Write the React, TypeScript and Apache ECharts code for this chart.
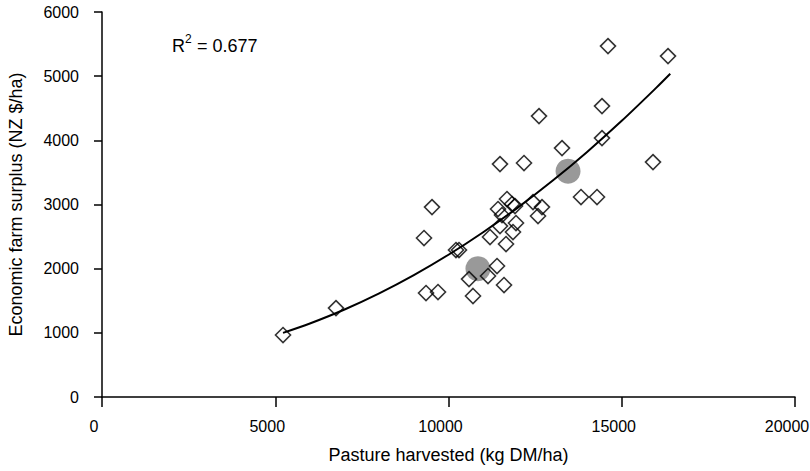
import React, { useEffect, useRef } from "react";
import * as echarts from "echarts";

// Pasture harvested (kg DM/ha) and economic farm surplus (NZ $/ha), one entry per farm
const pastureHarvested = [
  5224, 6753, 9293, 9524, 9351, 9697, 10216, 10303, 10592, 10707, 11140, 11400,
  11602, 11198, 11660, 11861, 11948, 11486, 11429, 11688, 11833, 11919, 11544,
  11486, 12179, 12439, 12698, 12583, 12612, 13276, 14430, 14430, 13824, 14286,
  14603, 16335, 15902,
];
const farmSurplus = [
  966, 1386, 2477, 2960, 1620, 1636, 2290, 2290, 1838, 1574, 1885, 2041,
  1745, 2493, 2384, 2571, 2711, 2664, 2929, 3085, 3007, 2976, 2836,
  3630, 3646, 3038, 2960, 2820, 4378, 3879, 4534, 4035, 3116, 3116,
  5469, 5313, 3661,
];

// Highlighted (grey) farms
const highlightX = [10850, 13450];
const highlightY = [2000, 3520];

// Polynomial trend line
const trendX = [5224, 6000, 7000, 8000, 9000, 10000, 11000, 12000, 13000, 14000, 15000, 16000, 16400];
const trendY = [1000, 1146, 1364, 1615, 1899, 2217, 2568, 2952, 3369, 3820, 4304, 4821, 5037];

const xTicks = [0, 5000, 10000, 15000, 20000];
const yTicks = [0, 1000, 2000, 3000, 4000, 5000, 6000];
const rSquaredLabel = "= 0.677";

const FONT = "'Liberation Sans', Arial, sans-serif";

export default function App() {
  const ref = useRef<HTMLDivElement>(null);

  useEffect(() => {
    if (!ref.current) return;
    const chart = echarts.init(ref.current, undefined, { renderer: "svg" });
    const pts = pastureHarvested.map((x, i) => [x, farmSurplus[i]]);
    const hl = highlightX.map((x, i) => [x, highlightY[i]]);
    const tr = trendX.map((x, i) => [x, trendY[i]]);

    chart.setOption({
      animation: false,
      backgroundColor: "#ffffff",
      grid: {
        left: 102,
        right: 15,
        top: 12,
        bottom: 74,
        containLabel: false,
        outerBoundsMode: "none",
      },
      xAxis: {
        type: "value",
        min: xTicks[0],
        max: xTicks[xTicks.length - 1],
        interval: 5000,
        name: "Pasture harvested (kg DM/ha)",
        nameLocation: "middle",
        nameGap: 49,
        nameTextStyle: { color: "#000", fontFamily: FONT, fontSize: 18 },
        axisLine: { show: true, onZero: false, lineStyle: { color: "#000", width: 1.5 } },
        axisTick: { show: true, inside: false, length: 10, lineStyle: { color: "#000", width: 1.5 } },
        axisLabel: {
          color: "#000",
          fontFamily: FONT,
          fontSize: 16,
          margin: 21,
          padding: [0, 16, 0, 0],
          formatter: (v: number) => String(v),
        },
        splitLine: { show: false },
      },
      yAxis: {
        type: "value",
        min: yTicks[0],
        max: yTicks[yTicks.length - 1],
        interval: 1000,
        name: "Economic farm surplus (NZ $/ha)",
        nameLocation: "middle",
        nameGap: 77,
        nameTextStyle: { color: "#000", fontFamily: FONT, fontSize: 18 },
        axisLine: { show: true, onZero: false, lineStyle: { color: "#000", width: 1.5 } },
        axisTick: { show: true, inside: false, length: 8, lineStyle: { color: "#000", width: 1.5 } },
        axisLabel: {
          color: "#000",
          fontFamily: FONT,
          fontSize: 16,
          margin: 23,
          formatter: (v: number) => String(v),
        },
        splitLine: { show: false },
      },
      graphic: [
        { type: "text", left: 172, top: 37, style: { text: "R", fill: "#000", font: `18px ${FONT}` } },
        { type: "text", left: 185, top: 33, style: { text: "2", fill: "#000", font: `12px ${FONT}` } },
        { type: "text", left: 197, top: 37, style: { text: rSquaredLabel, fill: "#000", font: `18px ${FONT}` } },
      ],
      series: [
        {
          type: "scatter",
          data: hl,
          symbol: "circle",
          symbolSize: 25,
          itemStyle: { color: "#808080" },
          z: 1,
        },
        {
          type: "scatter",
          data: pts,
          symbol: "diamond",
          symbolSize: 15,
          itemStyle: { color: "rgba(0,0,0,0)", borderColor: "#000", borderWidth: 1.6 },
          z: 2,
        },
        {
          type: "line",
          data: tr,
          smooth: 0.3,
          showSymbol: false,
          symbol: "none",
          lineStyle: { color: "#000", width: 2 },
          z: 3,
        },
      ],
    });
    return () => chart.dispose();
  }, []);

  return (
    <div
      ref={ref}
      style={{ position: "fixed", left: 0, top: 0, width: 810, height: 471, background: "#fff" }}
    />
  );
}
